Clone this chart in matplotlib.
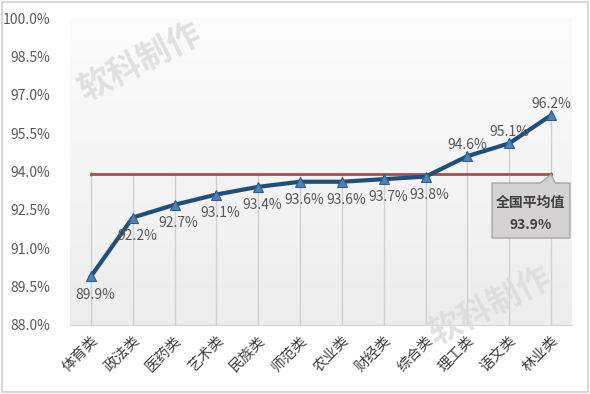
import matplotlib
matplotlib.use("Agg")
import matplotlib.pyplot as plt
import numpy as np
from matplotlib.patches import Rectangle, Polygon

plt.rcParams['font.family'] = ['Noto Sans CJK SC', 'DejaVu Sans']

categories = ['体育类', '政法类', '医药类', '艺术类', '民族类', '师范类',
              '农业类', '财经类', '综合类', '理工类', '语文类', '林业类']
values = [89.9, 92.2, 92.7, 93.1, 93.4, 93.6, 93.6, 93.7, 93.8, 94.6, 95.1, 96.2]
national_avg = 93.9
yticks = [88.0, 89.5, 91.0, 92.5, 94.0, 95.5, 97.0, 98.5, 100.0]

W, H = 590, 394
fig = plt.figure(figsize=(W / 100, H / 100), dpi=100)
fig.patch.set_facecolor('white')
# outer border
fig.add_artist(Rectangle((0.003, 0.004), 0.994, 0.992, transform=fig.transFigure,
                         fill=False, edgecolor='#D0D0D0', linewidth=1.2))

ax = fig.add_axes([70 / W, 1 - 325 / H, 502 / W, 307 / H])
ax.set_xlim(-0.5, len(categories) - 0.5)
ax.set_ylim(88.0, 100.0)

# gradient background
grad = np.linspace(0, 1, 256).reshape(-1, 1)
ax.imshow(grad, extent=[-0.5, len(categories) - 0.5, 88.0, 100.0], aspect='auto',
          cmap=matplotlib.colors.LinearSegmentedColormap.from_list('g', ['#EDEDED', '#FFFFFF']),
          origin='lower', zorder=0, vmin=0, vmax=1.2)

x = np.arange(len(categories))
# drop lines
for xi, v in zip(x, values):
    ax.vlines(xi, 88.0, max(v, national_avg), color='#D0D0D0', linewidth=1.0, zorder=1)

# national average line
ax.plot([x[0], x[-1]], [national_avg, national_avg], color='#A0504D', linewidth=2.0, zorder=2)
ax.plot([x[0], x[-1]], [national_avg, national_avg], linestyle='none', marker='|',
        color='#A0504D', markersize=3, zorder=2)

# main line
ax.plot(x, values, color='#1F4E79', linewidth=3.0, marker='^', markersize=7,
        markerfacecolor='#4F81BD', markeredgecolor='#2E5E8E', markeredgewidth=0.8, zorder=3)

for xi, v in zip(x, values):
    if v > national_avg:
        ax.annotate(f'{v:.1f}%', (xi, v), xytext=(0, 3), textcoords='offset points',
                    ha='center', va='bottom', fontsize=10, color='#595959', zorder=4)
    else:
        ax.annotate(f'{v:.1f}%', (xi, v), xytext=(3, -8), textcoords='offset points',
                    ha='center', va='top', fontsize=10, color='#595959', zorder=4)

# callout box
bx0, bx1 = 9.59, 11.45
by0, by1 = 91.40, 93.55
ax.add_patch(Polygon([[bx0, by0], [bx1, by0], [bx1, by1], [11.1, by1],
                      [11.0, national_avg - 0.02], [10.74, by1], [bx0, by1]],
                     closed=True, facecolor='#D4D2D2', edgecolor='#A6A6A6',
                     linewidth=1.0, zorder=5, clip_on=False))
ax.text((bx0 + bx1) / 2, 92.77, '全国平均值', ha='center', va='center', fontsize=10,
        fontweight='bold', color='#404040', zorder=6)
ax.text((bx0 + bx1) / 2, 91.91, f'{national_avg:.1f}%', ha='center', va='center',
        fontsize=10, fontweight='bold', color='#404040', zorder=6)

ax.set_yticks(yticks)
ax.set_yticklabels([f'{t:.1f}%' for t in yticks], fontsize=10, color='#595959')
ax.set_xticks(x)
ax.set_xticklabels(categories, rotation=45, ha='right', rotation_mode='anchor',
                   fontsize=10.5, color='#404040')
ax.tick_params(axis='both', length=0)
ax.tick_params(axis='x', pad=6)
ax.tick_params(axis='y', pad=14)
for s in ['top', 'right', 'left']:
    ax.spines[s].set_visible(False)
ax.spines['bottom'].set_color('#D9D9D9')

# watermarks
fig.text(140 / W, 1 - 62 / H, '软科制作', rotation=27, fontsize=24, fontweight='bold',
         color='#DCDCDC', alpha=0.85, ha='center', va='center', zorder=10)
fig.text(490 / W, 1 - 306 / H, '软科制作', rotation=27, fontsize=24, fontweight='bold',
         color='#DCDCDC', alpha=0.85, ha='center', va='center', zorder=10)

fig.savefig('out.png', dpi=100)
